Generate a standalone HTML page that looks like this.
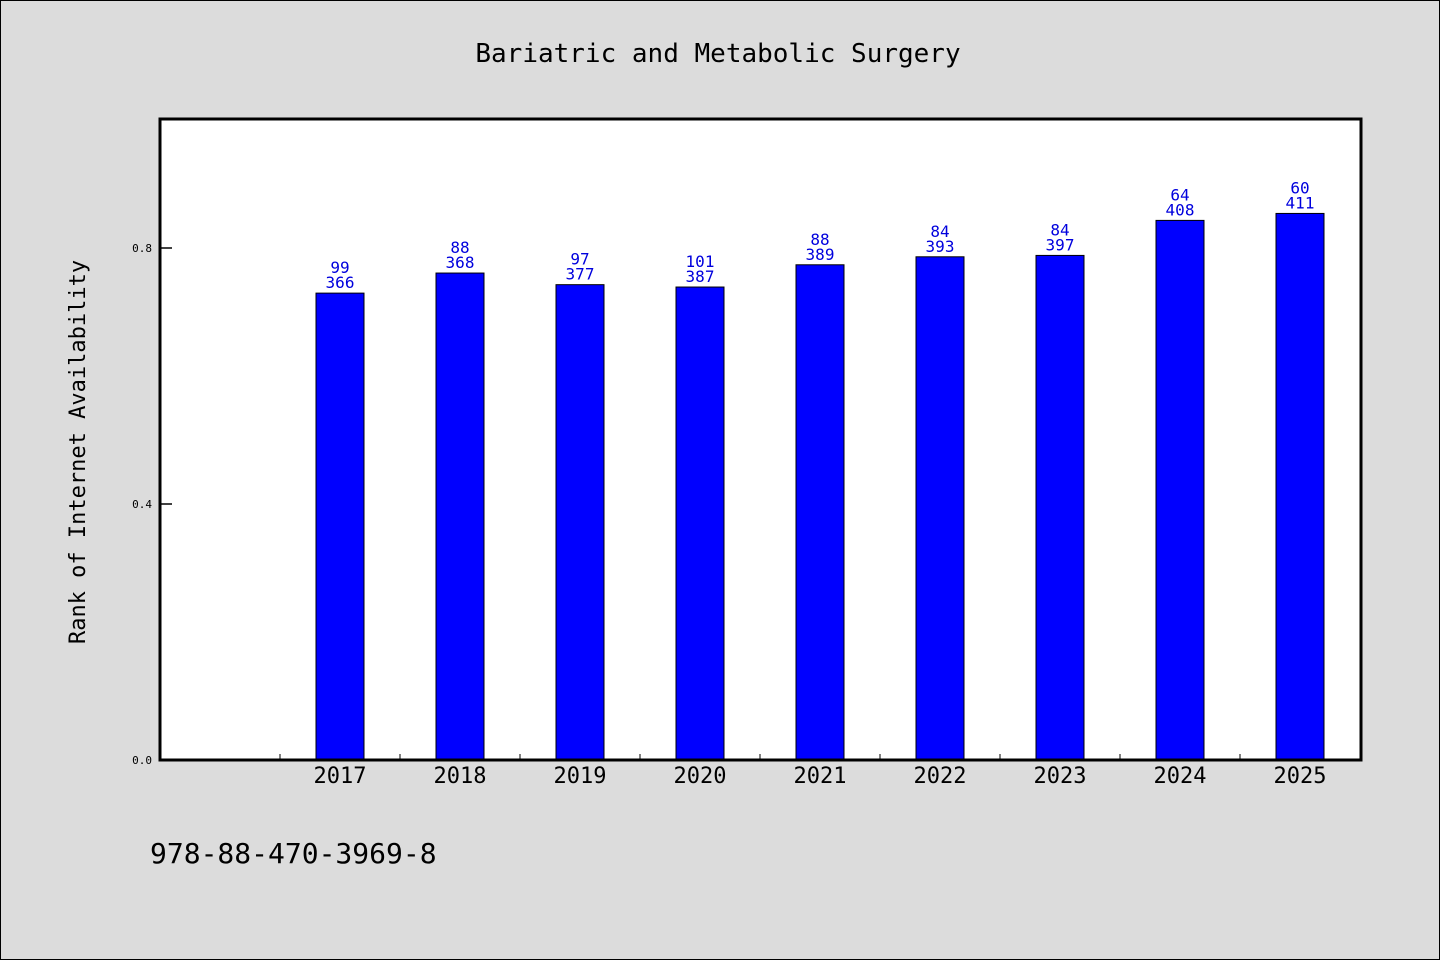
<!DOCTYPE html>
<html><head><meta charset="utf-8"><style>
html,body{margin:0;padding:0;background:#dcdcdc;}
svg{display:block;font-family:"WenQuanYi Zen Hei","DejaVu Sans Mono","Liberation Mono",monospace;}
</style></head><body>
<svg width="1440" height="960" viewBox="0 0 1440 960">
<rect x="0.5" y="0.5" width="1439" height="959" fill="#dcdcdc" stroke="#000"/>
<text x="718" y="62" font-size="26" text-anchor="middle" fill="#000">Bariatric and Metabolic Surgery</text>
<rect x="160" y="119" width="1201" height="641" fill="#fff"/>
<g id="marks"></g>
<rect x="160" y="119" width="1201" height="641" fill="none" stroke="#000" stroke-width="3"/>
<text transform="translate(85,452) rotate(-90)" font-size="22" text-anchor="middle" fill="#000">Rank of Internet Availability</text>
<text x="150" y="863" font-size="28" fill="#000">978-88-470-3969-8</text>
</svg>
<script>
const categories = ["", "2017","2018","2019","2020","2021","2022","2023","2024","2025"];
const ranks = [null, 99, 88, 97, 101, 88, 84, 84, 64, 60];
const totals = [null, 366, 368, 377, 387, 389, 393, 397, 408, 411];
const yTicks = [0.0, 0.4, 0.8];
const yTickLabels = ["0.0","0.4","0.8"];

const NS="http://www.w3.org/2000/svg";
const g=document.getElementById('marks');
const x0=160, slot=120, yBase=760, yScale=640;
const xs=i=>x0+slot*i+slot/2;
const ys=v=>yBase-v*yScale;
function mk(t,a){const e=document.createElementNS(NS,t);for(const k in a)e.setAttribute(k,a[k]);g.appendChild(e);return e;}
yTicks.forEach((v,i)=>{
  const l=mk('line',{x1:160,x2:172,y1:ys(v),y2:ys(v),stroke:'#000','stroke-width':1.5});
  
  
  const t=mk('text',{x:152,y:ys(v)+4,'font-size':11,'text-anchor':'end',fill:'#000'});
  t.textContent=yTickLabels[i];
  
  
});
for(let i=1;i<categories.length;i++){
  const l=mk('line',{x1:x0+slot*i,x2:x0+slot*i,y1:760,y2:754,stroke:'#000','stroke-width':1});
  
  
}
categories.forEach((c,i)=>{
  if(ranks[i]==null)return;
  const v=1-ranks[i]/totals[i];
  const cx=xs(i), top=ys(v);
  const r=mk('rect',{x:cx-24,y:top,width:48,height:yBase-top,fill:'#0000ff',stroke:'#000','stroke-width':1});
  
  
  const t1=mk('text',{x:cx,y:top-20,'font-size':16,'text-anchor':'middle',fill:'#0000dd'});
  t1.textContent=ranks[i];
  
  
  const t2=mk('text',{x:cx,y:top-5,'font-size':16,'text-anchor':'middle',fill:'#0000dd'});
  t2.textContent=totals[i];
  
  
  const xl=mk('text',{x:cx,y:783,'font-size':22,'text-anchor':'middle',fill:'#000'});
  xl.textContent=c;
  
  
});
</script>
</body></html>
